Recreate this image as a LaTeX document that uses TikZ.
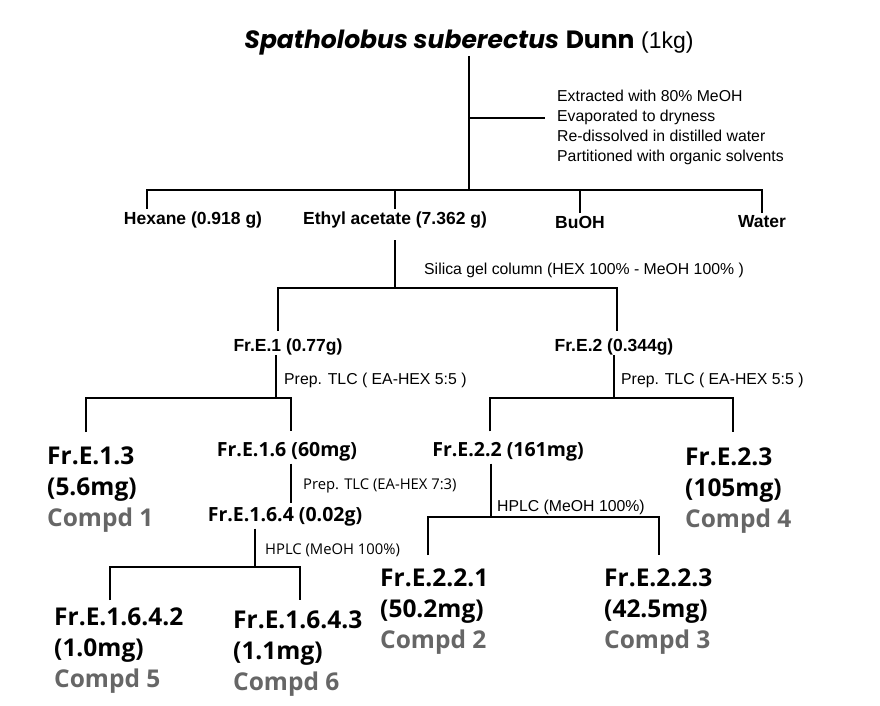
\documentclass[tikz,border=0pt]{standalone}
\usepackage{fontspec}
\setmainfont{Liberation Sans}
\newfontfamily\titlefont{Poppins}
\newfontfamily\korfont{Open Sans}
\usetikzlibrary{positioning}
\definecolor{cmpgray}{RGB}{102,102,102}

\tikzset{
  br/.style={line width=2.6pt},
  lab/.style={font=\bfseries\fontsize{17.5}{20}\selectfont, inner sep=0pt},
  note/.style={font=\fontsize{15.8}{20}\selectfont, inner sep=0pt, anchor=west, align=left},
  knote/.style={font=\korfont\fontsize{14.8}{18}\selectfont, inner sep=0pt, anchor=west},
  kmid/.style={font=\korfont\bfseries\fontsize{19.5}{22}\selectfont, inner sep=0pt},
  kbig/.style={font=\korfont\bfseries\fontsize{24.5}{31}\selectfont, inner sep=0pt, anchor=north west, align=left},
}
\newcommand{\cmp}[1]{{\color{cmpgray}Compd #1}}

\begin{document}
\begin{tikzpicture}[x=1pt,y=-1pt]
\useasboundingbox (0,0) rectangle (880,705);

% extract
\node[inner sep=0pt] (title) at (469,43) {\titlefont\fontsize{25}{30}\selectfont
  \textbf{\textit{Spatholobus suberectus}} \textbf{Dunn} {\rmfamily\fontsize{23}{28}\selectfont(1kg)}};
\node[note] (ext) at (557,127) {Extracted with 80\% MeOH\\Evaporated to dryness\\
  Re-dissolved in distilled water\\Partitioned with organic solvents};
\coordinate (ja) at (147,190);
\coordinate (jd) at (762,190);
\coordinate (jx) at (469,118);
\draw[br] (title.south) -- (title.south |- ja);
\draw[br] (jx) -- ([xshift=-12pt]ext.west |- jx);

% partition
\node[lab] (hex) at (193,220) {Hexane (0.918 g)};
\node[lab] (ea) at (395,220) {Ethyl acetate (7.362 g)};
\node[lab] (buoh) at (580,222) {BuOH};
\node[lab] (water) at (762,222) {Water};
\draw[br] ([yshift=3pt]hex.north -| ja) -- (ja) -- (jd) -- ([yshift=3pt]water.north);
\draw[br] ([yshift=3pt]ea.north) -- (ea.north |- ja);
\draw[br] ([yshift=3pt]buoh.north) -- (buoh.north |- ja);

% silica gel
\node[note] (sil) at (424,270) {Silica gel column (HEX 100\% - MeOH 100\% )};
\node[lab] (fre1) at (288,347) {Fr.E.1 (0.77g)};
\node[lab] (fre2) at (614,347) {Fr.E.2 (0.344g)};
\coordinate (jb1) at (278,288);
\coordinate (jb2) at (617,288);
\draw[br] ([yshift=-12pt]ea.south) -- (ea.south |- jb1);
\draw[br] ([yshift=8pt]fre1.north -| jb1) -- (jb1) -- (jb2) -- ([yshift=8pt]fre2.north -| jb2);

% Fr.E.1
\node[note] (tlc1) at (284,380) {Prep. TLC ( EA-HEX 5:5 )};
\node[kbig] (fre13) at (47,447) {Fr.E.1.3\\(5.6mg)\\\cmp{1}};
\node[kmid] (fre16) at (287,452) {Fr.E.1.6 (60mg)};
\coordinate (jc1) at (86,398);
\coordinate (jc2) at (291,398);
\draw[br] (fre1.south -| 276,0) -- (276,398);
\draw[br] ([yshift=15pt]fre13.north -| jc1) -- (jc1) -- (jc2) -- ([yshift=11pt]fre16.north -| jc2);

\node[knote] (tlc3) at (303,486) {Prep. TLC (EA-HEX 7:3)};
\node[kmid] (fre164) at (285,517) {Fr.E.1.6.4 (0.02g)};
\draw[br] ([yshift=-2pt]fre16.south -| jc2) -- ([yshift=4pt]fre164.north -| jc2);

\node[knote] (hplc1) at (265,550) {HPLC (MeOH 100\%)};
\node[kbig] (fre1642) at (54,608) {Fr.E.1.6.4.2\\(1.0mg)\\\cmp{5}};
\node[kbig] (fre1643) at (233,611) {Fr.E.1.6.4.3\\(1.1mg)\\\cmp{6}};
\coordinate (je) at (255,567);
\coordinate (je1) at (110,567);
\coordinate (je2) at (300,567);
\draw[br] ([yshift=-2pt]fre164.south -| je) -- (je);
\draw[br] ([yshift=8pt]fre1642.north -| je1) -- (je1) -- (je2) -- ([yshift=11pt]fre1643.north -| je2);

% Fr.E.2
\node[note] (tlc2) at (621,380) {Prep. TLC ( EA-HEX 5:5 )};
\node[kmid] (fre22) at (508,452) {Fr.E.2.2 (161mg)};
\node[kbig] (fre23) at (685,448) {Fr.E.2.3\\(105mg)\\\cmp{4}};
\coordinate (jf1) at (490,398);
\coordinate (jf2) at (733,398);
\draw[br] (fre2.south) -- (fre2.south |- jf1);
\draw[br] ([yshift=11pt]fre22.north -| jf1) -- (jf1) -- (jf2) -- ([yshift=16pt]fre23.north -| jf2);

\node[note] (hplc2) at (497,507) {HPLC (MeOH 100\%)};
\node[kbig] (fre221) at (380,569) {Fr.E.2.2.1\\(50.2mg)\\\cmp{2}};
\node[kbig] (fre223) at (604,569) {Fr.E.2.2.3\\(42.5mg)\\\cmp{3}};
\coordinate (jg1) at (428,517);
\coordinate (jg2) at (659,517);
\draw[br] ([yshift=-2pt]fre22.south -| 491,0) -- (491,517);
\draw[br] ([yshift=14pt]fre221.north -| jg1) -- (jg1) -- (jg2) -- ([yshift=14pt]fre223.north -| jg2);
\end{tikzpicture}
\end{document}
